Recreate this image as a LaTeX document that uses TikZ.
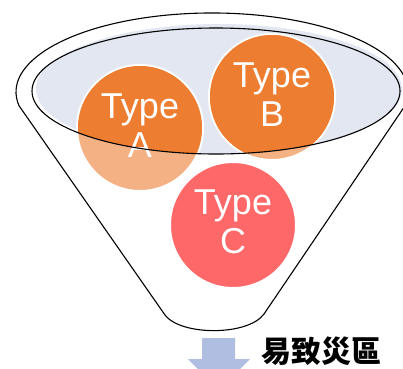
\documentclass[tikz,border=0pt]{standalone}
\usepackage{fontspec}
\setmainfont{Liberation Sans}
\newfontfamily\cjkfont{Noto Sans CJK TC}
\definecolor{funnelblue}{RGB}{226,231,242}
\definecolor{darkorange}{RGB}{237,125,49}
\definecolor{lightorange}{RGB}{244,177,131}
\definecolor{typered}{RGB}{255,104,104}
\definecolor{arrowblue}{RGB}{176,190,226}
\begin{document}
\begin{tikzpicture}[x=1pt, y=1pt,
  ball/.style={circle, draw=white, line width=2pt, inner sep=0pt, outer sep=0pt, minimum size=126pt},
  balltext/.style={text=white, align=center, font=\fontsize{36}{39}\selectfont}]
 \useasboundingbox (0,0) rectangle (403,368);
 \clip (0,0) rectangle (403,368);
 % funnel body
 \draw[black, line width=1.1pt, fill=white] (19,262.3) arc[start angle=190, end angle=-10, x radius=196, y radius=79]
   -- (264,54) .. controls (248,32) and (181,32) .. (165,53) -- cycle;
 % top of the funnel
 \fill[funnelblue] (219,279) ellipse (183pt and 65pt);
 \node[ball, fill=lightorange] (T-A) at (140,240) {};
 \node[ball, fill=lightorange] (T-B) at (272,271) {};
 \begin{scope}
  \clip (216,277) ellipse (184pt and 63pt);
  \fill[darkorange] (T-A.center) circle (62pt);
  \fill[darkorange] (T-B.center) circle (62pt);
 \end{scope}
 \node[balltext] (L-A) at (140,242) {Type\\A};
 \node[balltext] (L-B) at (272,273) {Type\\B};
 \draw[black, line width=1.1pt] (216,277) ellipse (184pt and 63pt);
 \node[ball, fill=typered] (T-C) at (233,143) {};
 \node[balltext] (L-C) at (233,146) {Type\\C};
 % arrow and label
 \fill[arrowblue] (202,30) -- (235,30) -- (235,9) -- (250,9) -- (219,-22) -- (188,9) -- (202,9) -- cycle;
 \node[anchor=base west, font=\cjkfont\bfseries\fontsize{30}{30}\selectfont] (label) at (258,6) {易致災區};
\end{tikzpicture}
\end{document}
